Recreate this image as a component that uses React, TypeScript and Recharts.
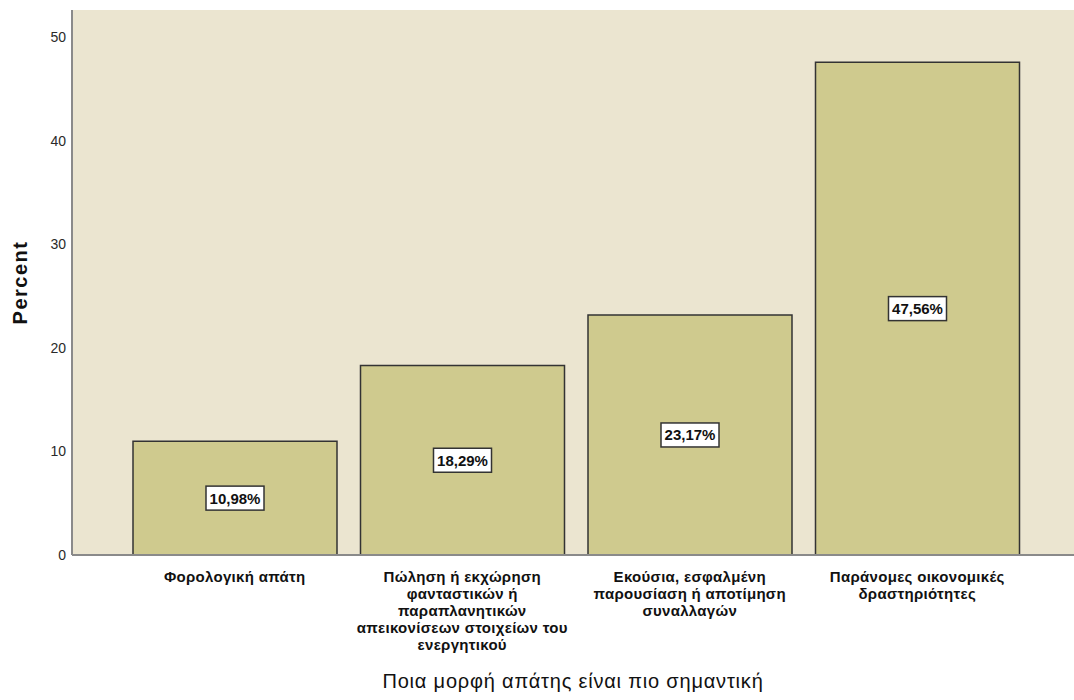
import React from 'react';
import { Bar, BarChart, CartesianGrid, LabelList, XAxis, YAxis, Label } from 'recharts';

const categories = [
  'Φορολογική απάτη',
  'Πώληση ή εκχώρηση φανταστικών ή παραπλανητικών απεικονίσεων στοιχείων του ενεργητικού',
  'Εκούσια, εσφαλμένη παρουσίαση ή αποτίμηση συναλλαγών',
  'Παράνομες οικονομικές δραστηριότητες',
];

const percents = [10.98, 18.29, 23.17, 47.56];

// wrapped lines for each category tick
const tickLines = [
  ['Φορολογική απάτη'],
  ['Πώληση ή εκχώρηση', 'φανταστικών ή', 'παραπλανητικών', 'απεικονίσεων στοιχείων του', 'ενεργητικού'],
  ['Εκούσια, εσφαλμένη', 'παρουσίαση ή αποτίμηση', 'συναλλαγών'],
  ['Παράνομες οικονομικές', 'δραστηριότητες'],
];

const yTicks = [0, 10, 20, 30, 40, 50];

const data = categories.map((name, i) => ({ name, percent: percents[i] }));

const FONT = '"Liberation Sans", Arial, sans-serif';

function CategoryTick(props: any) {
  const { x, y, index } = props;
  const lines = tickLines[index] || [];
  return (
    <text
      x={x}
      y={y + 19}
      textAnchor="middle"
      fontFamily={FONT}
      fontSize={15}
      fontWeight="bold"
      letterSpacing={0.3}
      fill="#111"
    >
      {lines.map((line, i) => (
        <tspan key={i} x={x} dy={i === 0 ? 0 : 17}>
          {line}
        </tspan>
      ))}
    </text>
  );
}

function ValueBox(props: any) {
  const { x, y, width, height, value } = props;
  const cx = x + width / 2;
  const cy = y + height / 2;
  const w = 58;
  const h = 24;
  const text = value.toFixed(2).replace('.', ',') + '%';
  return (
    <g>
      <rect x={cx - w / 2} y={cy - h / 2} width={w} height={h} fill="#ffffff" stroke="#333" strokeWidth={1.5} />
      <text x={cx} y={cy + 5.5} textAnchor="middle" fontFamily={FONT} fontSize={15} fontWeight="bold" fill="#111">
        {text}
      </text>
    </g>
  );
}

export default function App() {
  return (
    <div style={{ position: 'absolute', left: 0, top: 0, background: '#fff' }}>
      <BarChart width={1074} height={700} data={data} margin={{ top: 10, right: 0, bottom: 0, left: 0 }}>
        <CartesianGrid fill="#ebe5d0" stroke="none" horizontal={false} vertical={false} />
        <XAxis
          dataKey="name"
          interval={0}
          padding={{ left: 49, right: 43 }}
          axisLine={{ stroke: '#8a8a8a', strokeWidth: 2 }}
          tickLine={false}
          tick={<CategoryTick />}
          height={145}
        >
          <Label
            value="Ποια μορφή απάτης είναι πιο σημαντική"
            position="insideBottom"
            offset={12}
            style={{ fontFamily: FONT, fontSize: 20, letterSpacing: 0.8, fill: '#111' }}
          />
        </XAxis>
        <YAxis
          width={72}
          domain={[0, 52.6]}
          ticks={yTicks}
          allowDataOverflow
          axisLine={{ stroke: '#8a8a8a', strokeWidth: 2 }}
          tickLine={false}
          tickMargin={0}
          tick={{ fontFamily: FONT, fontSize: 14, fill: '#2a2a2a' }}
        >
          <Label
            value="Percent"
            angle={-90}
            position="insideLeft"
            offset={20}
            style={{
              fontFamily: FONT,
              fontSize: 20,
              fontWeight: 'bold',
              letterSpacing: 1.5,
              fill: '#111',
              textAnchor: 'middle',
            }}
          />
        </YAxis>
        <Bar dataKey="percent" barSize={204} fill="#cfca8e" stroke="#333" strokeWidth={1.5} isAnimationActive={false}>
          <LabelList dataKey="percent" content={<ValueBox />} />
        </Bar>
      </BarChart>
    </div>
  );
}
